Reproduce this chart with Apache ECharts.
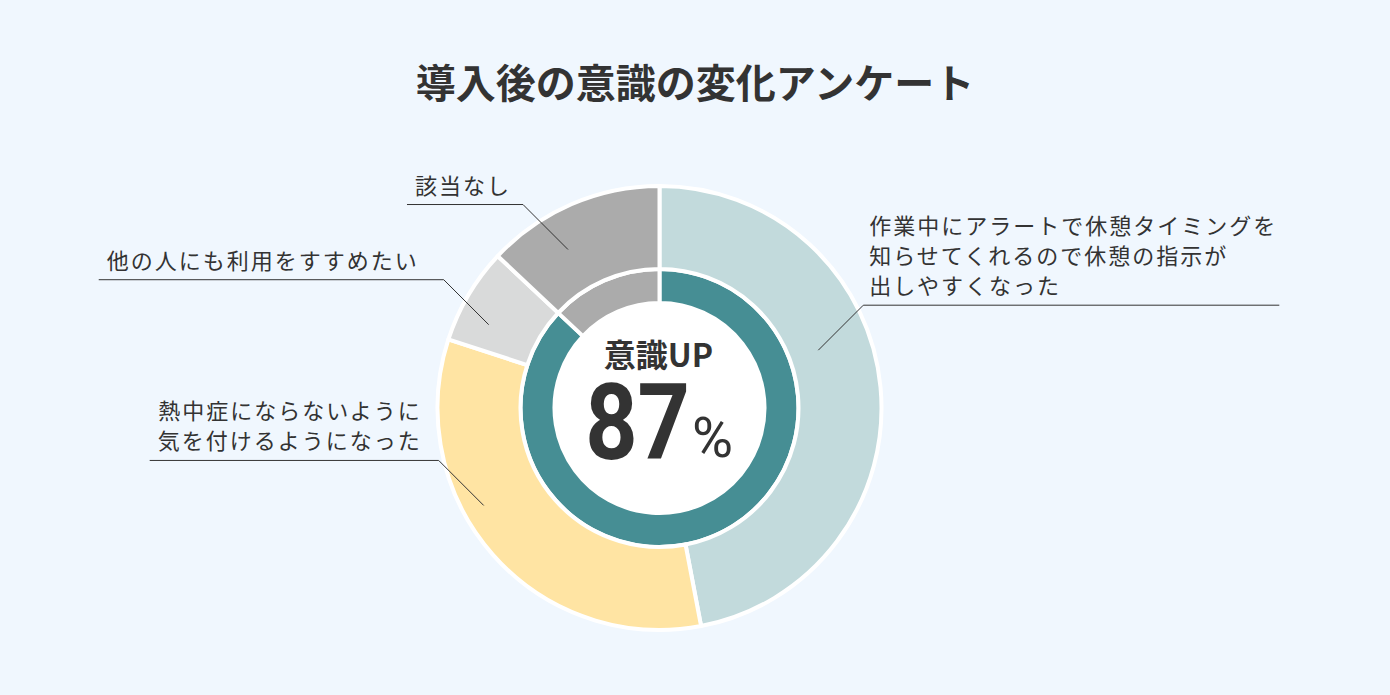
<!DOCTYPE html>
<html>
<head>
<meta charset="utf-8">
<script src="https://cdn.jsdelivr.net/npm/echarts@6/dist/echarts.min.js"></script>
<style>
html, body { margin: 0; padding: 0; background: #f0f7fe; }
#chart { width: 1390px; height: 695px; }
#chart text[style*="22px"] { letter-spacing: 2px; }
</style>
</head>
<body>
<div id="chart"></div>
<script>
// ---- data ----
const chartTitle = '導入後の意識の変化アンケート';
const categories = [
  '作業中にアラートで休憩タイミングを\n知らせてくれるので休憩の指示が\n出しやすくなった',
  '熱中症にならないように\n気を付けるようになった',
  '他の人にも利用をすすめたい',
  '該当なし'
];
const values = [47, 33, 7, 13];
const innerCategories = ['意識UP', 'その他'];
const innerValues = [87, 13];
const centerCaption = '意識UP';
const centerUnit = '%';

// ---- layout / style ----
const CX = 659.5, CY = 408;
const outerColors = ['#c2dadc', '#ffe4a3', '#d9dada', '#ababab'];
const innerColors = ['#468e94', '#ababab'];
// label anchor: angle (deg, clockwise from top), radius, text gap from elbow
const labelAnchors = [[70, 169, 6], [241, 201, 17], [296, 190, 25], [330, 183, 12]];
const LS = 2; // letter spacing used in CSS for labels

const chart = echarts.init(document.getElementById('chart'), null, { renderer: 'svg' });

const option = {
  backgroundColor: '#f0f7fe',
  animation: false,
  title: {
    text: chartTitle,
    left: 'center',
    top: 61,
    padding: 0,
    textStyle: {
      fontFamily: '"Noto Sans CJK JP"',
      fontWeight: 'bold',
      fontSize: 40,
      lineHeight: 40,
      color: '#333'
    }
  },
  series: [
    {
      type: 'pie',
      silent: true,
      center: [CX, CY],
      radius: [0, 105],
      label: { show: false },
      labelLine: { show: false },
      itemStyle: { color: '#ffffff' },
      data: [{ value: 1, name: '' }]
    },
    {
      type: 'pie',
      silent: true,
      center: [CX, CY],
      radius: [105, 139],
      startAngle: 90,
      clockwise: true,
      label: { show: false },
      labelLine: { show: false },
      itemStyle: { borderColor: '#ffffff', borderWidth: 4 },
      data: innerValues.map((v, i) => ({ value: v, name: innerCategories[i], itemStyle: { color: innerColors[i] } }))
    },
    {
      type: 'pie',
      silent: true,
      center: [CX, CY],
      radius: [139, 222],
      startAngle: 90,
      clockwise: true,
      label: { show: false },
      labelLine: { show: false },
      itemStyle: { borderColor: '#ffffff', borderWidth: 4 },
      data: values.map((v, i) => ({ value: v, name: categories[i], itemStyle: { color: outerColors[i] } }))
    },
    {
      // transparent overlay of the outer ring carrying labels & leader lines on top
      type: 'pie',
      z: 10,
      silent: true,
      center: [CX, CY],
      radius: [139, 222],
      startAngle: 90,
      clockwise: true,
      avoidLabelOverlap: false,
      itemStyle: { color: 'rgba(0,0,0,0)', borderWidth: 0 },
      label: {
        show: true,
        position: 'outside',
        formatter: '{b}',
        fontFamily: '"Noto Sans CJK JP"',
        fontSize: 22,
        lineHeight: 30,
        color: '#333'
      },
      labelLine: { show: true, smooth: false, lineStyle: { color: '#333', width: 1 } },
      labelLayout: function (p) {
        const a = labelAnchors[p.dataIndex];
        const rad = a[0] * Math.PI / 180;
        const sx = CX + a[1] * Math.sin(rad);
        const sy = CY - a[1] * Math.cos(rad);
        const right = Math.sin(rad) > 0;
        const ex = sx + (right ? 45 : -45);
        const ey = sy - 45;
        const lines = String(p.text).split('\n');
        const maxChars = Math.max.apply(null, lines.map(l => l.length));
        const w = p.labelRect.width + maxChars * LS;
        let tx, endX;
        if (right) { tx = ex + a[2]; endX = tx + w + 2; }
        else { tx = ex - a[2]; endX = tx - w - 8; }
        return {
          x: tx,
          y: ey - 6,
          align: right ? 'left' : 'right',
          verticalAlign: 'bottom',
          labelLinePoints: [[sx, sy], [ex, ey], [endX, ey]]
        };
      },
      data: values.map((v, i) => ({ value: v, name: categories[i] }))
    }
  ],
  graphic: [
    {
      type: 'text',
      z: 100,
      x: CX - 1,
      y: 353,
      silent: true,
      style: {
        text: centerCaption,
        fontFamily: '"Noto Sans CJK JP"',
        fontWeight: 'bold',
        fontSize: 32,
        lineHeight: 32,
        fill: '#333',
        align: 'center',
        verticalAlign: 'middle'
      }
    },
    {
      type: 'text',
      z: 100,
      x: 690,
      y: 423,
      scaleX: 0.87,
      silent: true,
      style: {
        text: String(innerValues[0]),
        fontFamily: 'Roboto',
        fontWeight: 'bold',
        fontSize: 105,
        lineHeight: 80,
        fill: '#333',
        align: 'right',
        verticalAlign: 'middle'
      }
    },
    {
      type: 'text',
      z: 100,
      x: 692,
      y: 438,
      silent: true,
      style: {
        text: centerUnit,
        fontFamily: 'Roboto',
        fontWeight: 'normal',
        fontSize: 56,
        lineHeight: 50,
        fill: '#333',
        align: 'left',
        verticalAlign: 'middle'
      }
    }
  ]
};
chart.setOption(option);
</script>
</body>
</html>
